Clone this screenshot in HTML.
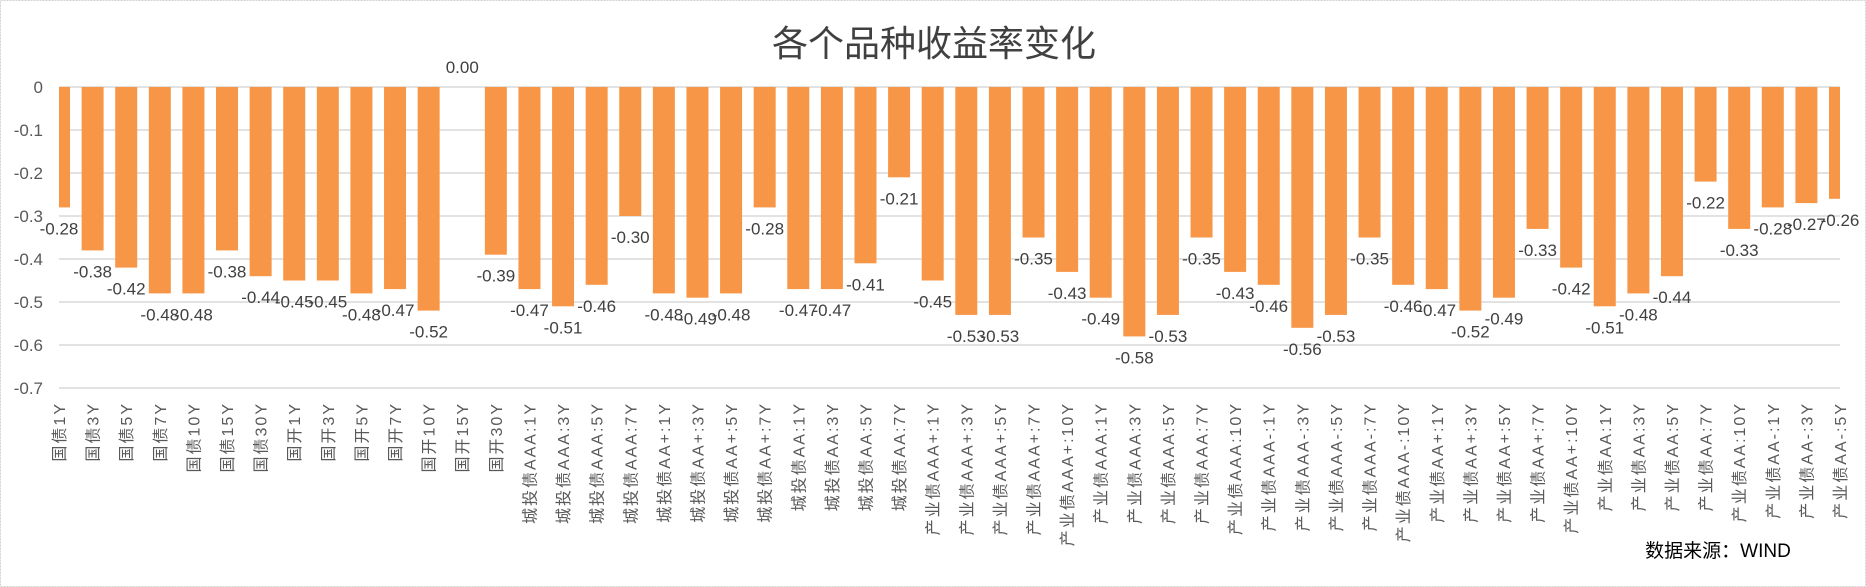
<!DOCTYPE html>
<html><head><meta charset="utf-8"><style>
body{margin:0;background:#fff;}
svg{display:block;font-family:"Liberation Sans","Noto Sans CJK SC",sans-serif;}
</style></head><body>
<svg id="chart" width="1866" height="587">
<rect x="0.5" y="0.5" width="1865" height="586" fill="#fff" stroke="#d0d0d0" stroke-dasharray="2,1"/>
<text x="934" y="56" font-size="36" fill="#404040" text-anchor="middle">各个品种收益率变化</text>
<text x="1718" y="557" font-size="19" fill="#000" text-anchor="middle">数据来源：WIND</text>
<g id="grid"></g><g id="bars"></g><g id="labels"></g><g id="xlabels"></g><g id="ylabels"></g>
</svg>
<script>
const categories = ["国债1Y","国债3Y","国债5Y","国债7Y","国债10Y","国债15Y","国债30Y","国开1Y","国开3Y","国开5Y","国开7Y","国开10Y","国开15Y","国开30Y","城投债AAA:1Y","城投债AAA:3Y","城投债AAA:5Y","城投债AAA:7Y","城投债AA+:1Y","城投债AA+:3Y","城投债AA+:5Y","城投债AA+:7Y","城投债AA:1Y","城投债AA:3Y","城投债AA:5Y","城投债AA:7Y","产业债AAA+:1Y","产业债AAA+:3Y","产业债AAA+:5Y","产业债AAA+:7Y","产业债AAA+:10Y","产业债AAA:1Y","产业债AAA:3Y","产业债AAA:5Y","产业债AAA:7Y","产业债AAA:10Y","产业债AAA-:1Y","产业债AAA-:3Y","产业债AAA-:5Y","产业债AAA-:7Y","产业债AAA-:10Y","产业债AA+:1Y","产业债AA+:3Y","产业债AA+:5Y","产业债AA+:7Y","产业债AA+:10Y","产业债AA:1Y","产业债AA:3Y","产业债AA:5Y","产业债AA:7Y","产业债AA:10Y","产业债AA-:1Y","产业债AA-:3Y","产业债AA-:5Y"];
const values = [-0.28,-0.38,-0.42,-0.48,-0.48,-0.38,-0.44,-0.45,-0.45,-0.48,-0.47,-0.52,0.00,-0.39,-0.47,-0.51,-0.46,-0.30,-0.48,-0.49,-0.48,-0.28,-0.47,-0.47,-0.41,-0.21,-0.45,-0.53,-0.53,-0.35,-0.43,-0.49,-0.58,-0.53,-0.35,-0.43,-0.46,-0.56,-0.53,-0.35,-0.46,-0.47,-0.52,-0.49,-0.33,-0.42,-0.51,-0.48,-0.44,-0.22,-0.33,-0.28,-0.27,-0.26];
const yTicks = [0,-0.1,-0.2,-0.3,-0.4,-0.5,-0.6,-0.7];
const yTickLabels = ["0","-0.1","-0.2","-0.3","-0.4","-0.5","-0.6","-0.7"];

const NS="http://www.w3.org/2000/svg";
const plotL=59, plotR=1840, y0=87, pxPerUnit=430;
const step=(plotR-plotL)/(categories.length-1);
const xPos=i=>plotL+i*step;
const yPos=v=>y0-v*pxPerUnit;
function mk(tag,attrs,parent){const e=document.createElementNS(NS,tag);for(const k in attrs)e.setAttribute(k,attrs[k]);document.getElementById(parent).appendChild(e);return e;}

yTicks.forEach((t,i)=>{
  const l=mk('line',{x1:plotL,x2:plotR,y1:yPos(t),y2:yPos(t),stroke:'#d9d9d9','stroke-width':1.5},'grid');
  
  
  const tx=mk('text',{x:43,y:yPos(t)+6,'font-size':17,fill:'#595959','text-anchor':'end'},'ylabels');
  tx.textContent=yTickLabels[i];
  
  
});
const bw=22;
values.forEach((v,i)=>{
  const cx=xPos(i);
  let x1=Math.max(cx-bw/2,plotL), x2=Math.min(cx+bw/2,plotR);
  const top=Math.min(yPos(0),yPos(v)), h=Math.abs(yPos(v)-yPos(0));
  const r=mk('rect',{x:x1,y:top,width:x2-x1,height:h,fill:'#F79646'},'bars');
  
  
  const ly = v<0 ? yPos(v)+27 : yPos(v)-14;
  const t=mk('text',{x:Math.min(cx,plotR+8),y:ly,'font-size':17,fill:'#404040','text-anchor':'middle'},'labels');
  t.textContent=v.toFixed(2);
  
  
  const xl=mk('text',{x:0,y:0,'font-size':16,fill:'#595959','text-anchor':'end','letter-spacing':'2',transform:`translate(${cx+6},402) rotate(-90)`},'xlabels');
  xl.textContent=categories[i];
  
  
});
</script>
</body></html>
